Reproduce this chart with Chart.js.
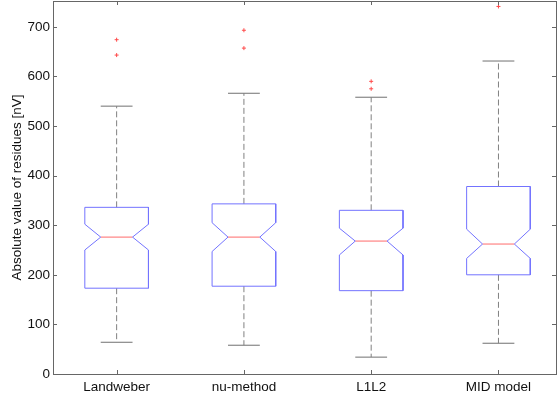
<!DOCTYPE html>
<html lang="en">
<head>
<meta charset="UTF-8" />
<title>Residues boxplot</title>
<script src="https://cdn.jsdelivr.net/npm/chart.js"></script>
<style>
  html, body { margin: 0; padding: 0; background: #fff; overflow: hidden; }
  #wrap { width: 558px; height: 397px; }
</style>
</head>
<body>
<div id="wrap"><canvas id="chart"></canvas></div>
<script>
// values
const categories = ["Landweber", "nu-method", "L1L2", "MID model"];
const whiskerLow = [64, 58, 34, 62];
const q1 = [173, 177, 168, 200];
const notchLow = [250, 247, 240, 233];
const median = [276, 276, 268, 262];
const notchHigh = [302, 305, 294, 292];
const q3 = [336, 343, 330, 378];
const whiskerHigh = [540, 566, 558, 631];
const outliers = [[643, 674], [657, 693], [575, 590], [741]];
const yTicks = [0, 100, 200, 300, 400, 500, 600, 700];

const boxHalf = 0.25;   // half box width, in category units
const notchHalf = 0.125;
const capHalf = 0.125;

const FONT = "'Liberation Sans', Arial, sans-serif";
const AXIS = "#666";

const datasets = [];

// box outlines with notches
categories.forEach((c, i) => {
  const x = i + 1;
  datasets.push({
    data: [
      { x: x - boxHalf, y: q1[i] },
      { x: x - boxHalf, y: notchLow[i] },
      { x: x - notchHalf, y: median[i] },
      { x: x - boxHalf, y: notchHigh[i] },
      { x: x - boxHalf, y: q3[i] },
      { x: x + boxHalf, y: q3[i] },
      { x: x + boxHalf, y: notchHigh[i] },
      { x: x + notchHalf, y: median[i] },
      { x: x + boxHalf, y: notchLow[i] },
      { x: x + boxHalf, y: q1[i] },
      { x: x - boxHalf, y: q1[i] }
    ],
    showLine: true, borderColor: "#7373ff", borderWidth: 1, pointRadius: 0, tension: 0
  });
  // median
  datasets.push({
    data: [{ x: x - notchHalf, y: median[i] }, { x: x + notchHalf, y: median[i] }],
    showLine: true, borderColor: "#ff6b6b", borderWidth: 1, pointRadius: 0
  });
  // dashed whiskers
  datasets.push({
    data: [
      { x: x, y: q3[i] }, { x: x, y: whiskerHigh[i] }, { x: x, y: null },
      { x: x, y: q1[i] }, { x: x, y: whiskerLow[i] }
    ],
    showLine: true, borderColor: "#808080", borderWidth: 1, borderDash: [6, 3],
    pointRadius: 0, spanGaps: false
  });
  // caps
  datasets.push({
    data: [
      { x: x - capHalf, y: whiskerHigh[i] }, { x: x + capHalf, y: whiskerHigh[i] }, { x: x, y: null },
      { x: x - capHalf, y: whiskerLow[i] }, { x: x + capHalf, y: whiskerLow[i] }
    ],
    showLine: true, borderColor: "#707070", borderWidth: 1, pointRadius: 0, spanGaps: false
  });
});

// outliers
datasets.push({
  data: outliers.flatMap((vals, i) => vals.map(v => ({ x: i + 1, y: v }))),
  showLine: false, pointStyle: "cross", pointRadius: 2,
  borderColor: "#ff4a4a", borderWidth: 1
});

// frame with inward ticks on all sides
const framePlugin = {
  id: "frame",
  afterDraw(chart) {
    const { ctx, chartArea: a, scales } = chart;
    ctx.save();
    ctx.strokeStyle = AXIS;
    ctx.lineWidth = 1;
    ctx.strokeRect(Math.round(a.left) + 0.5, Math.round(a.top) + 0.5,
      Math.round(a.right - a.left) - 1, Math.round(a.bottom - a.top));
    const tl = 4;
    ctx.beginPath();
    yTicks.forEach(v => {
      const py = Math.round(scales.y.getPixelForValue(v)) + 0.5;
      ctx.moveTo(a.left, py); ctx.lineTo(a.left + tl, py);
      ctx.moveTo(a.right - 1, py); ctx.lineTo(a.right - 1 - tl, py);
    });
    categories.forEach((c, i) => {
      const px = Math.round(scales.x.getPixelForValue(i + 1)) + 0.5;
      ctx.moveTo(px, a.bottom); ctx.lineTo(px, a.bottom - tl);
      ctx.moveTo(px, a.top); ctx.lineTo(px, a.top + tl);
    });
    ctx.stroke();
    ctx.restore();
  }
};

new Chart(document.getElementById("chart"), {
  type: "scatter",
  data: { datasets: datasets },
  plugins: [framePlugin],
  options: {
    responsive: true,
    maintainAspectRatio: false,
    animation: false,
    layout: { autoPadding: false, padding: { top: 1, right: 1, left: 0, bottom: 0 } },
    plugins: { legend: { display: false }, tooltip: { enabled: false } },
    scales: {
      x: {
        type: "linear", min: 0.5, max: 4.46,
        grid: { display: false, drawTicks: false },
        border: { display: false },
        afterBuildTicks: (s) => { s.ticks = categories.map((c, i) => ({ value: i + 1 })); },
        afterFit: (s) => { s.height = 23; s.paddingLeft = 0; s.paddingRight = 0; },
        ticks: {
          autoSkip: false, maxRotation: 0, padding: 5,
          color: "#111", font: { family: FONT, size: 13.5 },
          callback: (v) => categories[v - 1] || ""
        }
      },
      y: {
        min: 0, max: 752,
        grid: { display: false, drawTicks: false },
        border: { display: false },
        afterBuildTicks: (s) => { s.ticks = yTicks.map(v => ({ value: v })); },
        afterFit: (s) => { s.width = 53; s.paddingTop = 0; s.paddingBottom = 0; },
        ticks: { padding: 3, color: "#111", font: { family: FONT, size: 13.5 } },
        title: {
          display: true, text: "Absolute value of residues [nV]",
          color: "#111", font: { family: FONT, size: 13.5 }, padding: { top: 9, bottom: 0 }
        }
      }
    }
  }
});
</script>
</body>
</html>
